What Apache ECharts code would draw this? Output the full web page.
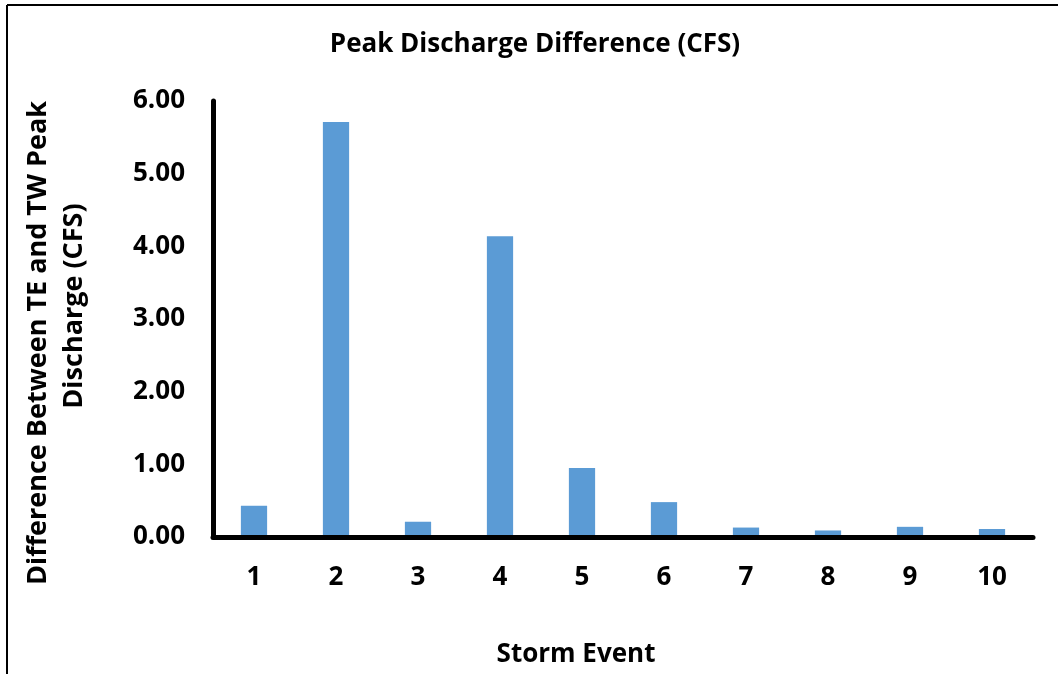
<!DOCTYPE html>
<html>
<head>
<meta charset="utf-8">
<script src="https://cdn.jsdelivr.net/npm/echarts@6/dist/echarts.min.js"></script>
<style>
html,body{margin:0;padding:0;background:#fff;}
#chart{width:1058px;height:674px;}
</style>
</head>
<body>
<div id="chart"></div>
<script>
const categories = ['1','2','3','4','5','6','7','8','9','10'];
const values = [0.43, 5.71, 0.21, 4.14, 0.95, 0.48, 0.13, 0.09, 0.14, 0.11];
const titleText = 'Peak Discharge Difference (CFS)';
const yNameLine1 = 'Difference Between TE and TW Peak';
const yNameLine2 = 'Discharge (CFS)';
const xName = 'Storm Event';

const FONT = 'Open Sans';
const chart = echarts.init(document.getElementById('chart'), null, {renderer: 'canvas'});
chart.setOption({
  backgroundColor: '#fff',
  animation: false,
  grid: {left: 213, right: 25, top: 101, bottom: 137, containLabel: false},
  xAxis: {
    type: 'category',
    data: categories,
    z: 5,
    axisLine: {lineStyle: {color: '#000', width: 5}},
    axisTick: {show: false},
    axisLabel: {color: '#000', fontFamily: FONT, fontWeight: 'bold', fontSize: 26, margin: 28}
  },
  yAxis: {
    type: 'value',
    min: 0, max: 6, interval: 1,
    z: 5,
    axisLine: {show: true, lineStyle: {color: '#000', width: 5}},
    axisTick: {show: false},
    splitLine: {show: false},
    axisLabel: {color: '#000', fontFamily: FONT, fontWeight: 'bold', fontSize: 26, margin: 28,
      formatter: v => v.toFixed(2)}
  },
  series: [{
    type: 'bar',
    data: values,
    barWidth: '32%',
    itemStyle: {color: '#5B9BD5'}
  }],
  graphic: [
    {type: 'line', shape: {x1: 7, y1: 5, x2: 1058, y2: 5}, style: {stroke: '#000', lineWidth: 2}},
    {type: 'line', shape: {x1: 7, y1: 5, x2: 7, y2: 674}, style: {stroke: '#000', lineWidth: 2}},
    {type: 'text', x: 535, y: 45, style: {text: titleText, fill: '#000', font: 'bold 26px "Open Sans"', textAlign: 'center', textVerticalAlign: 'middle'}},
    {type: 'text', x: 576, y: 655, style: {text: xName, fill: '#000', font: 'bold 26px "Open Sans"', textAlign: 'center', textVerticalAlign: 'middle'}},
    {type: 'text', x: 38, y: 343, rotation: Math.PI/2, style: {text: yNameLine1, fill: '#000', font: 'bold 27px "Open Sans"', textAlign: 'center', textVerticalAlign: 'middle'}},
    {type: 'text', x: 74, y: 306, rotation: Math.PI/2, style: {text: yNameLine2, fill: '#000', font: 'bold 27px "Open Sans"', textAlign: 'center', textVerticalAlign: 'middle'}}
  ]
});
</script>
</body>
</html>
